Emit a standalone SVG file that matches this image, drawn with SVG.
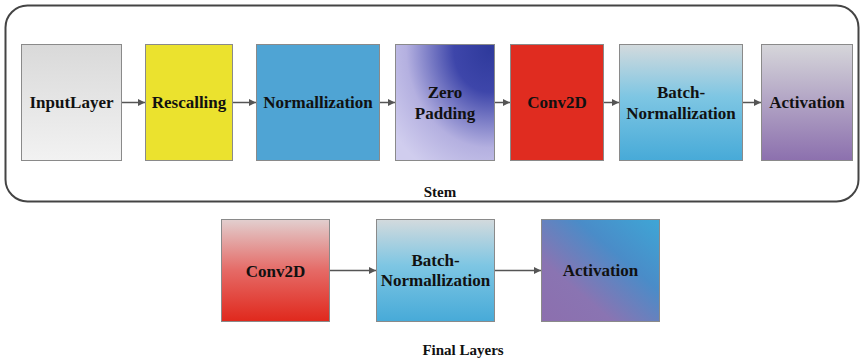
<svg xmlns="http://www.w3.org/2000/svg" width="861" height="360" viewBox="0 0 861 360">
  <defs>
    <linearGradient id="gInput" x1="0" y1="0" x2="0" y2="1">
      <stop offset="0" stop-color="#d9d9d9"/>
      <stop offset="1" stop-color="#f2f2f2"/>
    </linearGradient>
    <radialGradient id="gZero" cx="0.95" cy="0.05" r="1.2" fx="0.95" fy="0.05">
      <stop offset="0" stop-color="#2f3a9c"/>
      <stop offset="0.3" stop-color="#3e46aa"/>
      <stop offset="0.7" stop-color="#b4b0e0"/>
      <stop offset="1" stop-color="#d0cdee"/>
    </radialGradient>
    <linearGradient id="gBatch" x1="0" y1="0" x2="0" y2="1">
      <stop offset="0" stop-color="#d3dadd"/>
      <stop offset="0.45" stop-color="#7ec6e3"/>
      <stop offset="1" stop-color="#47aad8"/>
    </linearGradient>
    <linearGradient id="gAct" x1="0" y1="0" x2="0" y2="1">
      <stop offset="0" stop-color="#d6d6da"/>
      <stop offset="1" stop-color="#8c70ae"/>
    </linearGradient>
    <linearGradient id="gConvF" x1="0" y1="0" x2="0" y2="1">
      <stop offset="0" stop-color="#e2cfcf"/>
      <stop offset="0.5" stop-color="#e56a66"/>
      <stop offset="1" stop-color="#e0281c"/>
    </linearGradient>
    <linearGradient id="gActF" x1="0" y1="1" x2="1" y2="0">
      <stop offset="0" stop-color="#8c6fae"/>
      <stop offset="0.3" stop-color="#8a74b2"/>
      <stop offset="0.65" stop-color="#4a8cc8"/>
      <stop offset="1" stop-color="#3ea6d6"/>
    </linearGradient>
    <marker id="arr" viewBox="0 0 10 10" refX="10" refY="5" markerWidth="7" markerHeight="7" markerUnits="userSpaceOnUse" orient="auto">
      <path d="M0,0 L10,5 L0,10 z" fill="#555"/>
    </marker>
  </defs>
  <style>
    .box { stroke: #8a8a8a; stroke-width: 1; }
    .lbl { font-family: 'Liberation Serif', 'DejaVu Serif', serif; font-weight: bold; font-size: 17px; fill: #111; text-anchor: middle; }
    .cap { font-family: 'Liberation Serif', 'DejaVu Serif', serif; font-weight: bold; font-size: 15px; fill: #111; text-anchor: middle; }
    .conn { stroke: #555; stroke-width: 1.5; fill: none; marker-end: url(#arr); }
  </style>
  <rect width="861" height="360" fill="#ffffff"/>
  <g id="stem">
    <rect x="5.5" y="5.5" width="853" height="196" rx="22" ry="22" fill="none" stroke="#444" stroke-width="2"/>
    <text class="cap" x="440" y="197">Stem</text>
  </g>
  <g id="inputlayer">
    <rect class="box" x="21.5" y="44.5" width="100" height="116" fill="url(#gInput)"/>
    <text class="lbl" x="71.5" y="108">InputLayer</text>
  </g>
  <g id="rescalling">
    <rect class="box" x="145.5" y="44.5" width="87" height="116" fill="#ebe22e"/>
    <text class="lbl" x="189" y="108">Rescalling</text>
  </g>
  <g id="normalization">
    <rect class="box" x="256.5" y="44.5" width="123" height="116" fill="#4fa4d4" stroke="#3a7fa8"/>
    <text class="lbl" x="318" y="108">Normallization</text>
  </g>
  <g id="zeropadding">
    <rect class="box" x="395.5" y="44.5" width="99" height="116" fill="url(#gZero)"/>
    <text class="lbl" x="445" y="98">Zero</text>
    <text class="lbl" x="445" y="119">Padding</text>
  </g>
  <g id="conv2d">
    <rect class="box" x="510.5" y="44.5" width="93" height="116" fill="#e02c20"/>
    <text class="lbl" x="557" y="108">Conv2D</text>
  </g>
  <g id="batchnorm">
    <rect class="box" x="619.5" y="44.5" width="123" height="116" fill="url(#gBatch)"/>
    <text class="lbl" x="681" y="98">Batch-</text>
    <text class="lbl" x="681" y="119">Normallization</text>
  </g>
  <g id="activation">
    <rect class="box" x="761.5" y="44.5" width="91" height="116" fill="url(#gAct)"/>
    <text class="lbl" x="807" y="108">Activation</text>
  </g>
  <g id="final-conv2d">
    <rect class="box" x="221.5" y="219.5" width="108" height="102" fill="url(#gConvF)"/>
    <text class="lbl" x="275.5" y="277">Conv2D</text>
  </g>
  <g id="final-batchnorm">
    <rect class="box" x="376.5" y="219.5" width="118" height="102" fill="url(#gBatch)"/>
    <text class="lbl" x="435.5" y="266">Batch-</text>
    <text class="lbl" x="435.5" y="286">Normallization</text>
  </g>
  <g id="final-activation">
    <rect class="box" x="541.5" y="219.5" width="118" height="102" fill="url(#gActF)"/>
    <text class="lbl" x="600.5" y="276">Activation</text>
  </g>
  <g id="final-caption">
    <text class="cap" x="463" y="355">Final Layers</text>
  </g>
  <g id="connectors">
    <line class="conn" x1="122" y1="102.5" x2="145" y2="102.5"/>
    <line class="conn" x1="233" y1="102.5" x2="256" y2="102.5"/>
    <line class="conn" x1="380" y1="102.5" x2="395" y2="102.5"/>
    <line class="conn" x1="495" y1="102.5" x2="510" y2="102.5"/>
    <line class="conn" x1="604" y1="102.5" x2="619" y2="102.5"/>
    <line class="conn" x1="743" y1="102.5" x2="761" y2="102.5"/>
    <line class="conn" x1="330" y1="270.5" x2="376" y2="270.5"/>
    <line class="conn" x1="495" y1="270.5" x2="541" y2="270.5"/>
  </g>
</svg>
